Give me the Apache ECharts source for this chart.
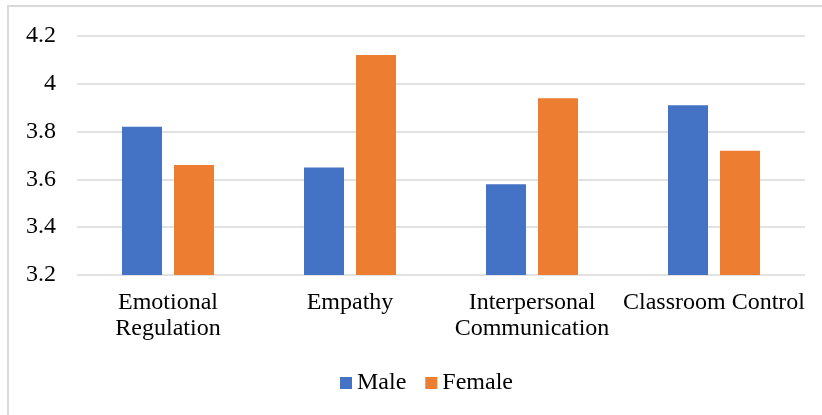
<!DOCTYPE html>
<html>
<head>
<meta charset="utf-8">
<script src="https://cdn.jsdelivr.net/npm/echarts@6/dist/echarts.min.js"></script>
<style>html,body{margin:0;padding:0;background:#fff;}#c{width:822px;height:415px;}</style>
</head>
<body>
<div id="c"></div>
<script>
const categories = ['Emotional\nRegulation', 'Empathy', 'Interpersonal\nCommunication', 'Classroom Control'];
const maleValues = [3.82, 3.65, 3.58, 3.91];
const femaleValues = [3.66, 4.12, 3.94, 3.72];
const seriesNames = ['Male', 'Female'];

const chart = echarts.init(document.getElementById('c'), null, {renderer: 'canvas'});
const font = '"Liberation Serif", "Times New Roman", serif';
chart.setOption({
  animation: false,
  textStyle: {fontFamily: font},
  graphic: [{
    type: 'rect', silent: true,
    shape: {x: 8, y: 6, width: 830, height: 420},
    style: {fill: 'none', stroke: '#d9d9d9', lineWidth: 2}
  }],
  grid: {left: 77, right: 17, top: 36, bottom: 140, containLabel: false},
  legend: {
    data: seriesNames,
    left: 340, top: 371, padding: 0,
    itemWidth: 12, itemHeight: 12, itemGap: 19,
    icon: 'rect',
    textStyle: {fontFamily: font, fontSize: 24, color: '#000', padding: [0, 0, 0, 0]}
  },
  xAxis: {
    type: 'category',
    data: categories,
    axisLine: {show: false},
    axisTick: {show: false},
    axisLabel: {interval: 0, fontFamily: font, fontSize: 24, color: '#000', margin: 15, lineHeight: 26}
  },
  yAxis: {
    type: 'value',
    min: 3.2, max: 4.2, interval: 0.2,
    axisLine: {show: false},
    axisTick: {show: false},
    splitLine: {lineStyle: {color: '#d9d9d9', width: 1.5}},
    axisLabel: {fontFamily: font, fontSize: 24, color: '#000', margin: 21,
      formatter: v => String(Math.round(v * 10) / 10)}
  },
  series: [
    {name: seriesNames[0], type: 'bar', data: maleValues, barWidth: 40, barGap: '30%',
      itemStyle: {color: '#4472C4'}},
    {name: seriesNames[1], type: 'bar', data: femaleValues, barWidth: 40,
      itemStyle: {color: '#ED7D31'}}
  ]
});
</script>
</body>
</html>
